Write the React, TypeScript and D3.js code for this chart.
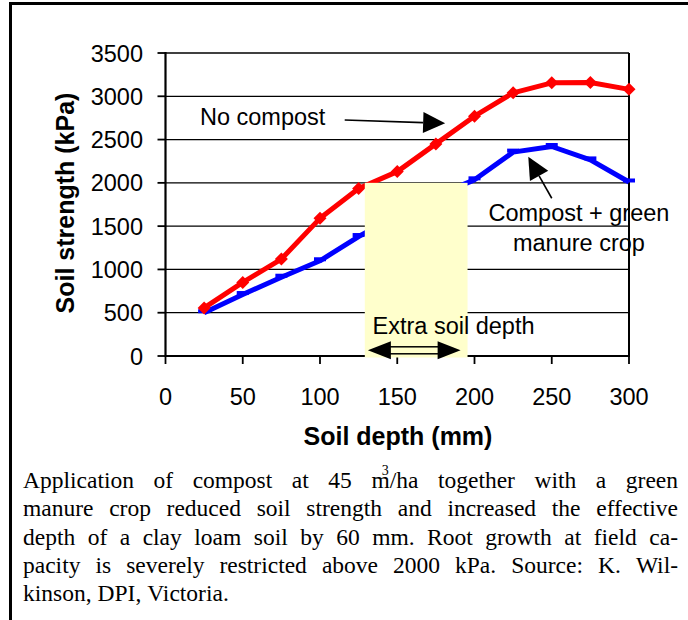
import React, { useEffect, useRef } from "react";
import * as d3 from "d3";

// soil depth (mm) and soil strength (kPa)
const depths = [25, 50, 75, 100, 125, 150, 175, 200, 225, 250, 275, 300];
const noCompost = [555, 850, 1120, 1590, 1935, 2130, 2450, 2770, 3040, 3155, 3160, 3080];
const compost = [500, 710, 910, 1100, 1380, 1620, 1850, 2035, 2355, 2420, 2265, 2010];

const xTicks = [0, 50, 100, 150, 200, 250, 300];
const yTicks = [0, 500, 1000, 1500, 2000, 2500, 3000, 3500];

// extra soil depth band (mm) and the 2000 kPa limit
const bandDepth = [129, 195.5];
const bandLimit = 2000;
const extraArrow = [131, 191];

const captionLines = [
  "Application of compost at 45 m/ha together with a green",
  "manure crop reduced soil strength and increased the effective",
  "depth of a clay loam soil by 60 mm. Root growth at field ca-",
  "pacity is severely restricted above 2000 kPa.  Source: K. Wil-",
  "kinson, DPI, Victoria.",
];

const W = 688;
const H = 620;
const SANS = "'Liberation Sans', Arial, sans-serif";
const SERIF = "'Liberation Serif', 'Times New Roman', serif";

const App = () => {
  const svgRef = useRef<SVGSVGElement>(null);

  useEffect(() => {
    const svg = d3.select(svgRef.current);
    svg.selectAll("*").remove();

    const x = d3.scaleLinear().domain([0, 300]).range([165.5, 629]);
    const y = d3.scaleLinear().domain([0, 3500]).range([356, 53]);

    // frame (top + left only)
    svg.append("line").attr("x1", 10.5).attr("x2", W).attr("y1", 3.5).attr("y2", 3.5)
      .attr("stroke", "#000").attr("stroke-width", 3);
    svg.append("line").attr("x1", 10.5).attr("x2", 10.5).attr("y1", 2).attr("y2", H)
      .attr("stroke", "#000").attr("stroke-width", 3);

    const g = svg.append("g");

    // gridlines
    g.selectAll("line.grid")
      .data(yTicks.slice(1))
      .join("line")
      .attr("class", "grid")
      .attr("x1", x(0)).attr("x2", x(300))
      .attr("y1", (d) => y(d)).attr("y2", (d) => y(d))
      .attr("stroke", "#000").attr("stroke-width", 1.3);

    // right border
    g.append("line").attr("x1", x(300)).attr("x2", x(300)).attr("y1", y(3500)).attr("y2", y(0))
      .attr("stroke", "#000").attr("stroke-width", 2);

    // axes
    g.append("line").attr("x1", x(0)).attr("x2", x(0)).attr("y1", y(3500) - 1).attr("y2", y(0) + 1)
      .attr("stroke", "#000").attr("stroke-width", 2.2);
    g.append("line").attr("x1", x(0)).attr("x2", x(300) + 1).attr("y1", y(0)).attr("y2", y(0))
      .attr("stroke", "#000").attr("stroke-width", 2.2);

    g.selectAll("line.ytick")
      .data(yTicks)
      .join("line")
      .attr("class", "ytick")
      .attr("x1", x(0) - 8).attr("x2", x(0))
      .attr("y1", (d) => y(d)).attr("y2", (d) => y(d))
      .attr("stroke", "#000").attr("stroke-width", 1.8);
    g.selectAll("line.xtick")
      .data(xTicks)
      .join("line")
      .attr("class", "xtick")
      .attr("x1", (d) => x(d)).attr("x2", (d) => x(d))
      .attr("y1", y(0)).attr("y2", y(0) + 8)
      .attr("stroke", "#000").attr("stroke-width", 1.8);

    g.selectAll("text.ylab")
      .data(yTicks)
      .join("text")
      .attr("class", "ylab")
      .attr("x", 143)
      .attr("y", (d) => y(d) + 8.5)
      .attr("text-anchor", "end")
      .style("font-family", SANS)
      .style("font-size", "23.5px")
      .text((d) => d);
    g.selectAll("text.xlab")
      .data(xTicks)
      .join("text")
      .attr("class", "xlab")
      .attr("x", (d) => x(d))
      .attr("y", 405)
      .attr("text-anchor", "middle")
      .style("font-family", SANS)
      .style("font-size", "23.5px")
      .text((d) => d);

    // axis titles
    g.append("text")
      .attr("x", 398).attr("y", 445)
      .attr("text-anchor", "middle")
      .style("font-family", SANS).style("font-size", "25px").style("font-weight", "bold")
      .text("Soil depth (mm)");
    g.append("text")
      .attr("transform", "translate(74,203) rotate(-90)")
      .attr("text-anchor", "middle")
      .style("font-family", SANS).style("font-size", "25px").style("font-weight", "bold")
      .text("Soil strength (kPa)");

    const line = d3
      .line<number>()
      .x((_, i) => x(depths[i]))
      .y((d) => y(d));

    // series
    g.append("path").datum(compost).attr("d", line)
      .attr("fill", "none").attr("stroke", "#0000FF").attr("stroke-width", 5)
      .attr("stroke-linejoin", "round");
    g.selectAll("rect.dash")
      .data(compost)
      .join("rect")
      .attr("class", "dash")
      .attr("x", (_, i) => x(depths[i]) - 6)
      .attr("y", (d) => y(d) - 3.5)
      .attr("width", 12).attr("height", 4)
      .attr("fill", "#0000FF");

    g.append("path").datum(noCompost).attr("d", line)
      .attr("fill", "none").attr("stroke", "#FF0000").attr("stroke-width", 5)
      .attr("stroke-linejoin", "round");
    g.selectAll("path.diamond")
      .data(noCompost)
      .join("path")
      .attr("class", "diamond")
      .attr("transform", (d, i) => `translate(${x(depths[i])},${y(d)})`)
      .attr("d", "M0,-6.5L6.5,0L0,6.5L-6.5,0Z")
      .attr("fill", "#FF0000");

    // extra soil depth band
    g.append("rect")
      .attr("x", x(bandDepth[0]))
      .attr("y", y(bandLimit))
      .attr("width", x(bandDepth[1]) - x(bandDepth[0]))
      .attr("height", y(0) - y(bandLimit) + 1.5)
      .attr("fill", "#FFFFCC");

    g.append("text")
      .attr("x", x(134)).attr("y", 334)
      .style("font-family", SANS).style("font-size", "23.5px")
      .text("Extra soil depth");

    // double-headed arrow
    const ay = 350.3;
    const ax0 = x(extraArrow[0]);
    const ax1 = x(extraArrow[1]);
    g.append("rect")
      .attr("x", ax0 + 20).attr("y", ay - 3.5)
      .attr("width", ax1 - ax0 - 40).attr("height", 7)
      .attr("fill", "none").attr("stroke", "#000").attr("stroke-width", 1.5);
    g.append("path")
      .attr("d", `M${ax0},${ay}L${ax0 + 23},${ay - 9}L${ax0 + 23},${ay + 9}Z`)
      .attr("fill", "#000");
    g.append("path")
      .attr("d", `M${ax1},${ay}L${ax1 - 23},${ay - 9}L${ax1 - 23},${ay + 9}Z`)
      .attr("fill", "#000");

    // annotation arrows
    const arrow = (x0: number, y0: number, x1: number, y1: number) => {
      const ang = Math.atan2(y1 - y0, x1 - x0);
      const len = 22;
      const half = 10.5;
      const bx = x1 - len * Math.cos(ang);
      const by = y1 - len * Math.sin(ang);
      const px = -Math.sin(ang) * half;
      const py = Math.cos(ang) * half;
      g.append("line").attr("x1", x0).attr("y1", y0).attr("x2", bx).attr("y2", by)
        .attr("stroke", "#000").attr("stroke-width", 1.6);
      g.append("path")
        .attr("d", `M${x1},${y1}L${bx + px},${by + py}L${bx - px},${by - py}Z`)
        .attr("fill", "#000");
    };
    arrow(x(116), y(2726), x(181), y(2688));
    arrow(x(250), y(1822), x(234.8), y(2302));

    g.append("text")
      .attr("x", x(22.3)).attr("y", y(2668))
      .style("font-family", SANS).style("font-size", "23.5px")
      .text("No compost");
    g.append("text")
      .attr("x", x(267.6)).attr("y", 221)
      .attr("text-anchor", "middle")
      .style("font-family", SANS).style("font-size", "23.5px")
      .text("Compost + green");
    g.append("text")
      .attr("x", x(267.6)).attr("y", 250.5)
      .attr("text-anchor", "middle")
      .style("font-family", SANS).style("font-size", "23.5px")
      .text("manure crop");

    // caption, justified word by word
    const left = 23;
    const right = 678;
    const fs = 23.5;
    captionLines.forEach((ln, li) => {
      const by = 488 + li * 28.25;
      const words = ln.split(/\s+/);
      const widths: number[] = [];
      const nodes = words.map((w) => {
        const t = svg.append("text")
          .attr("y", by)
          .style("font-family", SERIF)
          .style("font-size", `${fs}px`);
        if (w === "m/ha") {
          // the cubic exponent sits over the m, as in the original print
          t.append("tspan").text("m");
          const sup = t.append("tspan").attr("dx", -8).attr("dy", -13).style("font-size", "14px").text("3");
          t.append("tspan").attr("dx", 1).attr("dy", 13).text("/ha");
          const full = (t.node() as SVGTextElement).getComputedTextLength();
          const supW = (sup.node() as SVGTextContentElement).getComputedTextLength();
          widths.push(full - supW);
        } else {
          t.text(w);
          widths.push((t.node() as SVGTextElement).getComputedTextLength());
        }
        return t;
      });
      const total = d3.sum(widths);
      const last = li === captionLines.length - 1;
      const gap = last ? 6 : (right - left - total) / (words.length - 1);
      let cx = left;
      nodes.forEach((n, i) => {
        n.attr("x", cx);
        cx += widths[i] + gap;
      });
    });
  }, []);

  return (
    <svg
      ref={svgRef}
      width={W}
      height={H}
      style={{ position: "absolute", left: 0, top: 0, background: "#fff" }}
    />
  );
};

export default App;
